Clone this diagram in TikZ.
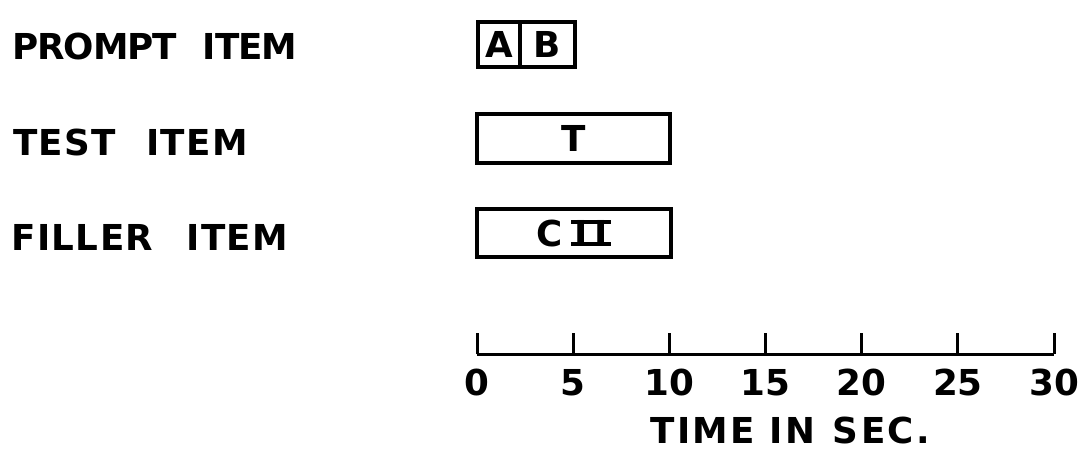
\documentclass[tikz,border=0pt]{standalone}
\usepackage{fontspec}
\setmainfont{DejaVu Sans}
\newfontfamily\wideA{DejaVu Sans}[LetterSpace=-3]
\newfontfamily\wideB{DejaVu Sans}[LetterSpace=4]
\newfontfamily\wideC{DejaVu Sans}[LetterSpace=7]
\newcommand\romtwo{\hbox{\rlap{\rule{40pt}{4pt}}\rlap{\rule[22pt]{40pt}{4pt}}\hbox to 40pt{\hss I\hskip 6pt I\hss}}}
\begin{document}
\begin{tikzpicture}[x=1pt,y=-1pt,
  lbl/.style={font=\fontsize{35.7}{40}\selectfont\bfseries, inner sep=0pt},
  bar/.style={draw, line width=3.2pt, inner sep=0pt, font=\fontsize{35.7}{40}\selectfont\bfseries},
  axisline/.style={line width=3pt}]
\useasboundingbox (0,0) rectangle (1087,456);
% row labels
\node[lbl, anchor=base west] (lp) at (12,59) {\wideA PROMPT\hspace{26pt}ITEM};
\node[lbl, anchor=base west] (lt) at (13,155) {\wideB TEST\hspace{30pt}ITEM};
\node[lbl, anchor=base west] (lf) at (11,250) {\wideB FILLER\hspace{33pt}ITEM};
% bars
\node[bar, minimum width=42pt, minimum height=45pt] (a) at (499,44.5) {A};
\node[bar, minimum width=55pt, minimum height=45pt] (b) at (547.5,44.5) {B};
\node[bar, minimum width=193pt, minimum height=49pt] (t) at (573.5,138.5) {T};
\node[bar, minimum width=194pt, minimum height=48pt] (f) at (574,233) {C\hspace{8pt}\romtwo};
% axis
\coordinate (ax0) at (477,354);
\coordinate (ax1) at (1054,354);
\draw[axisline] (ax0) -- (ax1);
\foreach \v [count=\i from 0] in {0,5,10,15,20,25,30} {
  \coordinate (tk\i) at ({477+\i*96.17},354);
  \coordinate (tt\i) at ({477+\i*96.17},333);
  \draw[axisline] (tk\i) -- (tt\i);
  \node[lbl, anchor=base] (n\i) at ({477+\i*96.17},395) {\v};
}
\node[lbl, anchor=base west] (cap) at (650,443) {\wideC TIME\hspace{14pt}IN\hspace{18pt}SEC.};
\end{tikzpicture}
\end{document}
